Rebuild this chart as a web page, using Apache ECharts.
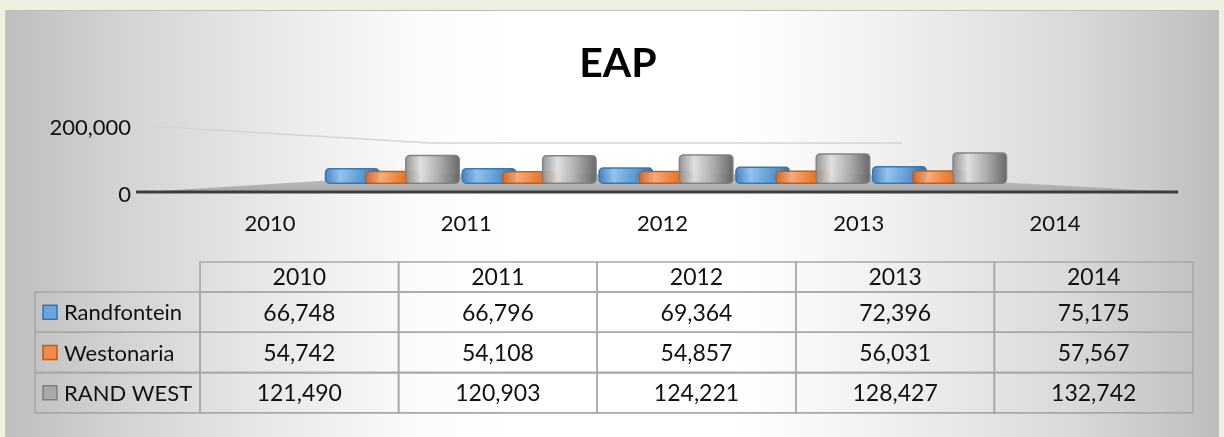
<!DOCTYPE html>
<html>
<head>
<meta charset="utf-8">
<title>EAP</title>
<script src="https://cdn.jsdelivr.net/npm/echarts@6/dist/echarts.min.js"></script>
<style>
  html, body { margin: 0; padding: 0; width: 1224px; height: 437px; overflow: hidden; background: #ebf1de; }
  #panel {
    position: absolute; left: 5px; top: 10px; width: 1213px; height: 427px;
    border-top: 1px solid #bdbdbd; border-left: 1px solid #c8c8c8;
    background: linear-gradient(90deg, #bebebe 0%, #d4d4d4 10%, #ececec 24%, #fbfbfb 34%, #ffffff 42%, #ffffff 60%, #f1f1f1 72%, #d9d9d9 88%, #bdbdbd 100%);
  }
  #chart { position: absolute; left: 0; top: 0; width: 1224px; height: 437px; }
</style>
</head>
<body>
<div id="panel"></div>
<div id="chart"></div>
<script>
// Economically active population by area
const years = ['2010', '2011', '2012', '2013', '2014'];
const seriesNames = ['Randfontein', 'Westonaria', 'RAND WEST'];
const randfontein = [66748, 66796, 69364, 72396, 75175];
const westonaria = [54742, 54108, 54857, 56031, 57567];
const randWest = [121490, 120903, 124221, 128427, 132742];
const yTicks = [0, 200000];

const FONT = 'Lato, "Open Sans", sans-serif';
const fmt = v => v.toLocaleString('en-US');

const seriesValues = [randfontein, westonaria, randWest];

// cylinder-like shading per series
const palette = [
  { stops: ['#3c7cbd', '#8fc0ec', '#5b9bd5', '#2c66a3'], border: '#2e75b6', key: '#6aa5dc' },
  { stops: ['#cf6520', '#f8ab78', '#ed7d31', '#bd5815'], border: '#c55a11', key: '#f08b4d' },
  { stops: ['#8c8c8c', '#dedede', '#a9a9a9', '#5f5f5f'], border: '#7f7f7f', key: '#a9a9a9' }
];

function cyl(p) {
  return new echarts.graphic.LinearGradient(0, 0, 1, 0, [
    { offset: 0, color: p.stops[0] },
    { offset: 0.28, color: p.stops[1] },
    { offset: 0.62, color: p.stops[2] },
    { offset: 1, color: p.stops[3] }
  ]);
}

// data table under the plot
const table = { left: 35, keyCol: 165, colW: 198.6, top: 262, headH: 30, rowH: 40.3 };
const lineStyle = { fill: 'none', stroke: '#a8a8a8', lineWidth: 1.6 };
const cellFont = '23px ' + FONT;
const keyFont = '22px ' + FONT;
const tableEls = [];
const colX = i => table.left + table.keyCol + i * table.colW;

years.forEach((y, i) => {
  tableEls.push({ type: 'rect', shape: { x: colX(i), y: table.top, width: table.colW, height: table.headH }, style: lineStyle, z: 1 });
  tableEls.push({ type: 'text', x: colX(i) + table.colW / 2, y: table.top + table.headH / 2 + 1,
    style: { text: y, font: cellFont, fill: '#111', align: 'center', verticalAlign: 'middle' }, z: 2 });
});
seriesNames.forEach((name, r) => {
  const ry = table.top + table.headH + r * table.rowH;
  tableEls.push({ type: 'rect', shape: { x: table.left, y: ry, width: table.keyCol, height: table.rowH }, style: lineStyle, z: 1 });
  tableEls.push({ type: 'rect', shape: { x: table.left + 8, y: ry + table.rowH / 2 - 7, width: 14, height: 14 },
    style: { fill: palette[r].key, stroke: palette[r].border, lineWidth: 1.5 }, z: 2 });
  tableEls.push({ type: 'text', x: table.left + 29, y: ry + table.rowH / 2 + 1,
    style: { text: name, font: keyFont, fill: '#111', align: 'left', verticalAlign: 'middle' }, z: 2 });
  seriesValues[r].forEach((v, i) => {
    tableEls.push({ type: 'rect', shape: { x: colX(i), y: ry, width: table.colW, height: table.rowH }, style: lineStyle, z: 1 });
    tableEls.push({ type: 'text', x: colX(i) + table.colW / 2, y: ry + table.rowH / 2 + 1,
      style: { text: fmt(v), font: cellFont, fill: '#111', align: 'center', verticalAlign: 'middle' }, z: 2 });
  });
});

// floor and back wall of the 3-D plot area
const sceneEls = [
  { type: 'polyline', shape: { points: [[148, 126], [430, 143], [902, 143]] },
    style: { stroke: '#d4d4d4', lineWidth: 1.5, fill: 'none' }, z: 0 },
  { type: 'polygon', shape: { points: [[144, 192], [430, 174], [851, 174], [1178, 192]] },
    style: { fill: new echarts.graphic.LinearGradient(0, 0, 0, 1, [
      { offset: 0, color: '#c4c4c4' }, { offset: 1, color: '#a8a8a8' }]) }, z: 0 },
  { type: 'line', shape: { x1: 136, y1: 192, x2: 1178, y2: 192 },
    style: { stroke: '#3d3d3d', lineWidth: 3 }, z: 1 }
];

const chart = echarts.init(document.getElementById('chart'), null, { renderer: 'canvas' });

chart.setOption({
  animation: false,
  backgroundColor: 'transparent',
  title: {
    text: 'EAP', left: 613, top: 38, textAlign: 'center',
    textStyle: { fontFamily: FONT, fontWeight: 'bold', fontSize: 41, color: '#000' }
  },
  grid: [
    { left: 145, right: 39, top: 128, bottom: 242 },   // value labels
    { left: 172, right: 71, top: 128, bottom: 245 },   // category labels
    { left: 324, right: 216, top: 136, bottom: 253 }   // columns
  ],
  xAxis: [
    { gridIndex: 0, type: 'category', data: years, show: false },
    { gridIndex: 1, type: 'category', data: years,
      axisLine: { show: false }, axisTick: { show: false },
      axisLabel: { margin: 21, fontFamily: FONT, fontSize: 22, color: '#111' } },
    { gridIndex: 2, type: 'category', data: years, show: false }
  ],
  yAxis: [
    { gridIndex: 0, type: 'value', min: yTicks[0], max: yTicks[1], interval: yTicks[1] - yTicks[0],
      axisLine: { show: false }, axisTick: { show: false }, splitLine: { show: false },
      axisLabel: { margin: 14, fontFamily: FONT, fontSize: 22, color: '#111', formatter: v => fmt(v) } },
    { gridIndex: 1, type: 'value', show: false },
    { gridIndex: 2, type: 'value', min: yTicks[0], max: yTicks[1], show: false }
  ],
  series: seriesNames.map((name, r) => ({
    name, type: 'bar', xAxisIndex: 2, yAxisIndex: 2,
    data: seriesValues[r], barWidth: 55, barGap: '-27%', z: 3,
    itemStyle: { color: cyl(palette[r]), borderColor: palette[r].border, borderWidth: 1.5, borderRadius: 4, opacity: 0.95 }
  })),
  graphic: { elements: sceneEls.concat(tableEls) }
});
</script>
</body>
</html>
